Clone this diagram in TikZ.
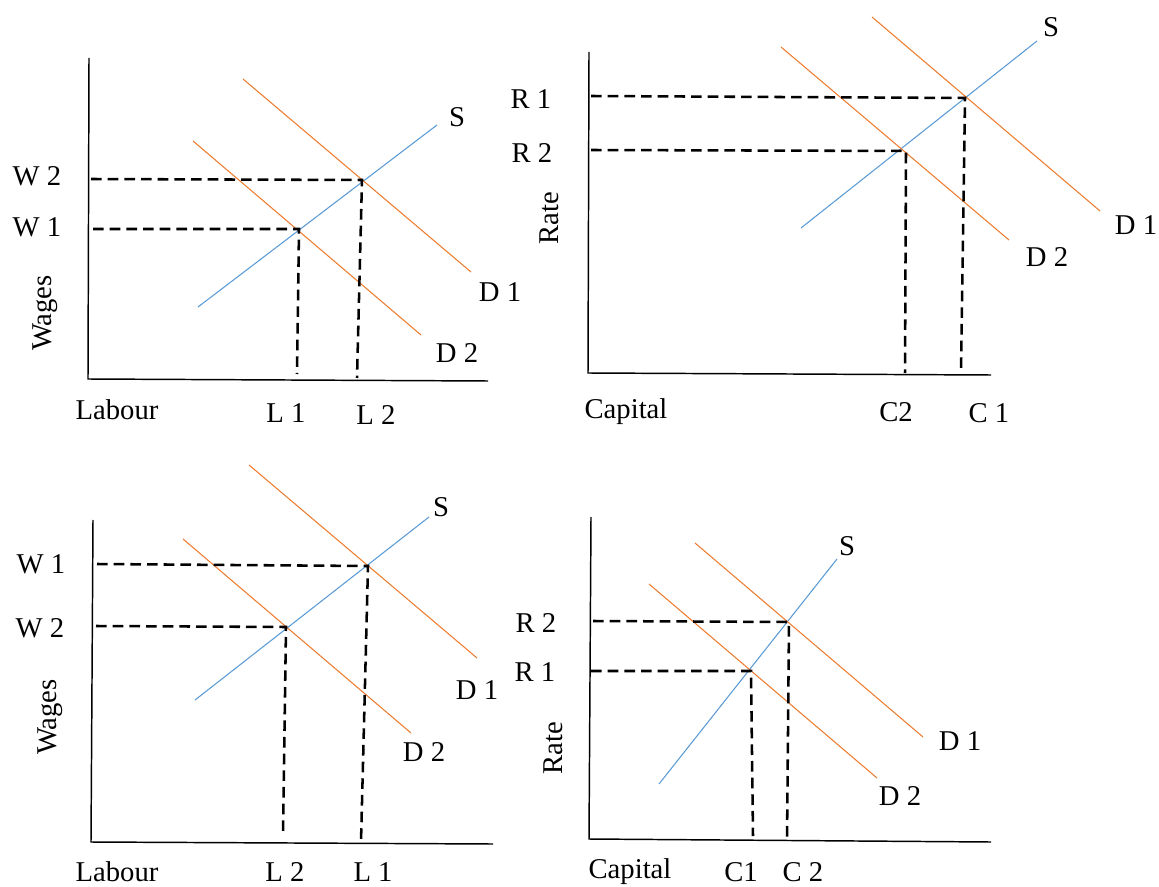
\documentclass[tikz,border=0pt]{standalone}
\usepackage{fontspec}
\setmainfont{Liberation Serif}
\usepackage{xcolor}
\usepackage{tikz}
\usetikzlibrary{positioning}
\definecolor{supply}{HTML}{5B9BD5}
\definecolor{demand}{HTML}{ED7D31}
\begin{document}
\begin{tikzpicture}[
  x=0.75pt, y=-0.75pt,
  font=\fontsize{21.5}{25}\selectfont,
  axis/.style={line width=1.1pt},
  sline/.style={supply, line width=0.8pt},
  dline/.style={demand, line width=0.8pt},
  guide/.style={line width=1.9pt, dash pattern=on 8pt off 4.5pt},
  lbl/.style={inner sep=0pt}
]
\useasboundingbox (0,0) rectangle (1159,887);

% labour market, demand falls
\draw[axis] (89,58) -- (88,379) -- (488,381);
\draw[sline] (198,307) -- (437,125);
\draw[dline] (243,79) -- (471,272);
\draw[dline] (193,141) -- (421,335);
\coordinate (lmA1) at (362,180);
\coordinate (lmA2) at (299,229);
\draw[guide] (91,179) -- (lmA1) -- (357,378);
\draw[guide] (93,229) -- (lmA2) -- (297,374);
\node[lbl] (w2A) at (37,176) {W 2};
\node[lbl] (w1A) at (37,227) {W 1};
\node[lbl, rotate=90] (wagesA) at (45,313) {Wages};
\node[lbl] (labourA) at (117,410) {Labour};
\node[lbl] (l1A) at (286,413) {L 1};
\node[lbl] (l2A) at (376,415) {L 2};
\node[lbl] (sA) at (457,117) {S};
\node[lbl] (d1A) at (500,292) {D 1};
\node[lbl] (d2A) at (457,353) {D 2};

% capital market, demand falls
\draw[axis] (589,52) -- (588,373) -- (991,375);
\draw[sline] (801,228) -- (1037,41);
\draw[dline] (872,17) -- (1100,211);
\draw[dline] (781,47) -- (1009,240);
\coordinate (cmA1) at (965,98);
\coordinate (cmA2) at (906,151);
\draw[guide] (591,96) -- (cmA1) -- (961,373);
\draw[guide] (591,150) -- (cmA2) -- (905,373);
\node[lbl] (r1A) at (531,99) {R 1};
\node[lbl] (r2A) at (532,153) {R 2};
\node[lbl, rotate=90] (rateA) at (549,218) {Rate};
\node[lbl] (capitalA) at (626,412) {Capital};
\node[lbl] (c2A) at (896,412) {C2};
\node[lbl] (c1A) at (989,413) {C 1};
\node[lbl] (sB) at (1051,27) {S};
\node[lbl] (d1B) at (1136,225) {D 1};
\node[lbl] (d2B) at (1047,257) {D 2};

% labour market, second case
\draw[axis] (93,520) -- (91,842) -- (493,844);
\draw[sline] (195,700) -- (429,517);
\draw[dline] (249,465) -- (477,658);
\draw[dline] (183,539) -- (411,733);
\coordinate (lmB1) at (368,566);
\coordinate (lmB2) at (286,627);
\draw[guide] (97,564) -- (lmB1) -- (361,842);
\draw[guide] (96,626) -- (lmB2) -- (283,833);
\node[lbl] (w1B) at (41,564) {W 1};
\node[lbl] (w2B) at (40,628) {W 2};
\node[lbl, rotate=90] (wagesB) at (50,717) {Wages};
\node[lbl] (labourB) at (117,872) {Labour};
\node[lbl] (l2B) at (285,872) {L 2};
\node[lbl] (l1B) at (373,872) {L 1};
\node[lbl] (sC) at (441,507) {S};
\node[lbl] (d1C) at (477,690) {D 1};
\node[lbl] (d2C) at (424,752) {D 2};

% capital market, second case
\draw[axis] (591,517) -- (589,839) -- (991,842);
\draw[sline] (659,784) -- (837,559);
\draw[dline] (695,543) -- (923,737);
\draw[dline] (649,584) -- (877,778);
\coordinate (cmB2) at (789,622);
\coordinate (cmB1) at (751,671);
\draw[guide] (593,621) -- (cmB2) -- (787,842);
\draw[guide] (591,671) -- (cmB1) -- (753,836);
\node[lbl] (r2B) at (536,623) {R 2};
\node[lbl] (r1B) at (535,672) {R 1};
\node[lbl, rotate=90] (rateB) at (553,748) {Rate};
\node[lbl] (capitalB) at (630,872) {Capital};
\node[lbl] (c1B) at (741,872) {C1};
\node[lbl] (c2B) at (803,872) {C 2};
\node[lbl] (sD) at (847,546) {S};
\node[lbl] (d1D) at (960,741) {D 1};
\node[lbl] (d2D) at (900,796) {D 2};
\end{tikzpicture}
\end{document}
